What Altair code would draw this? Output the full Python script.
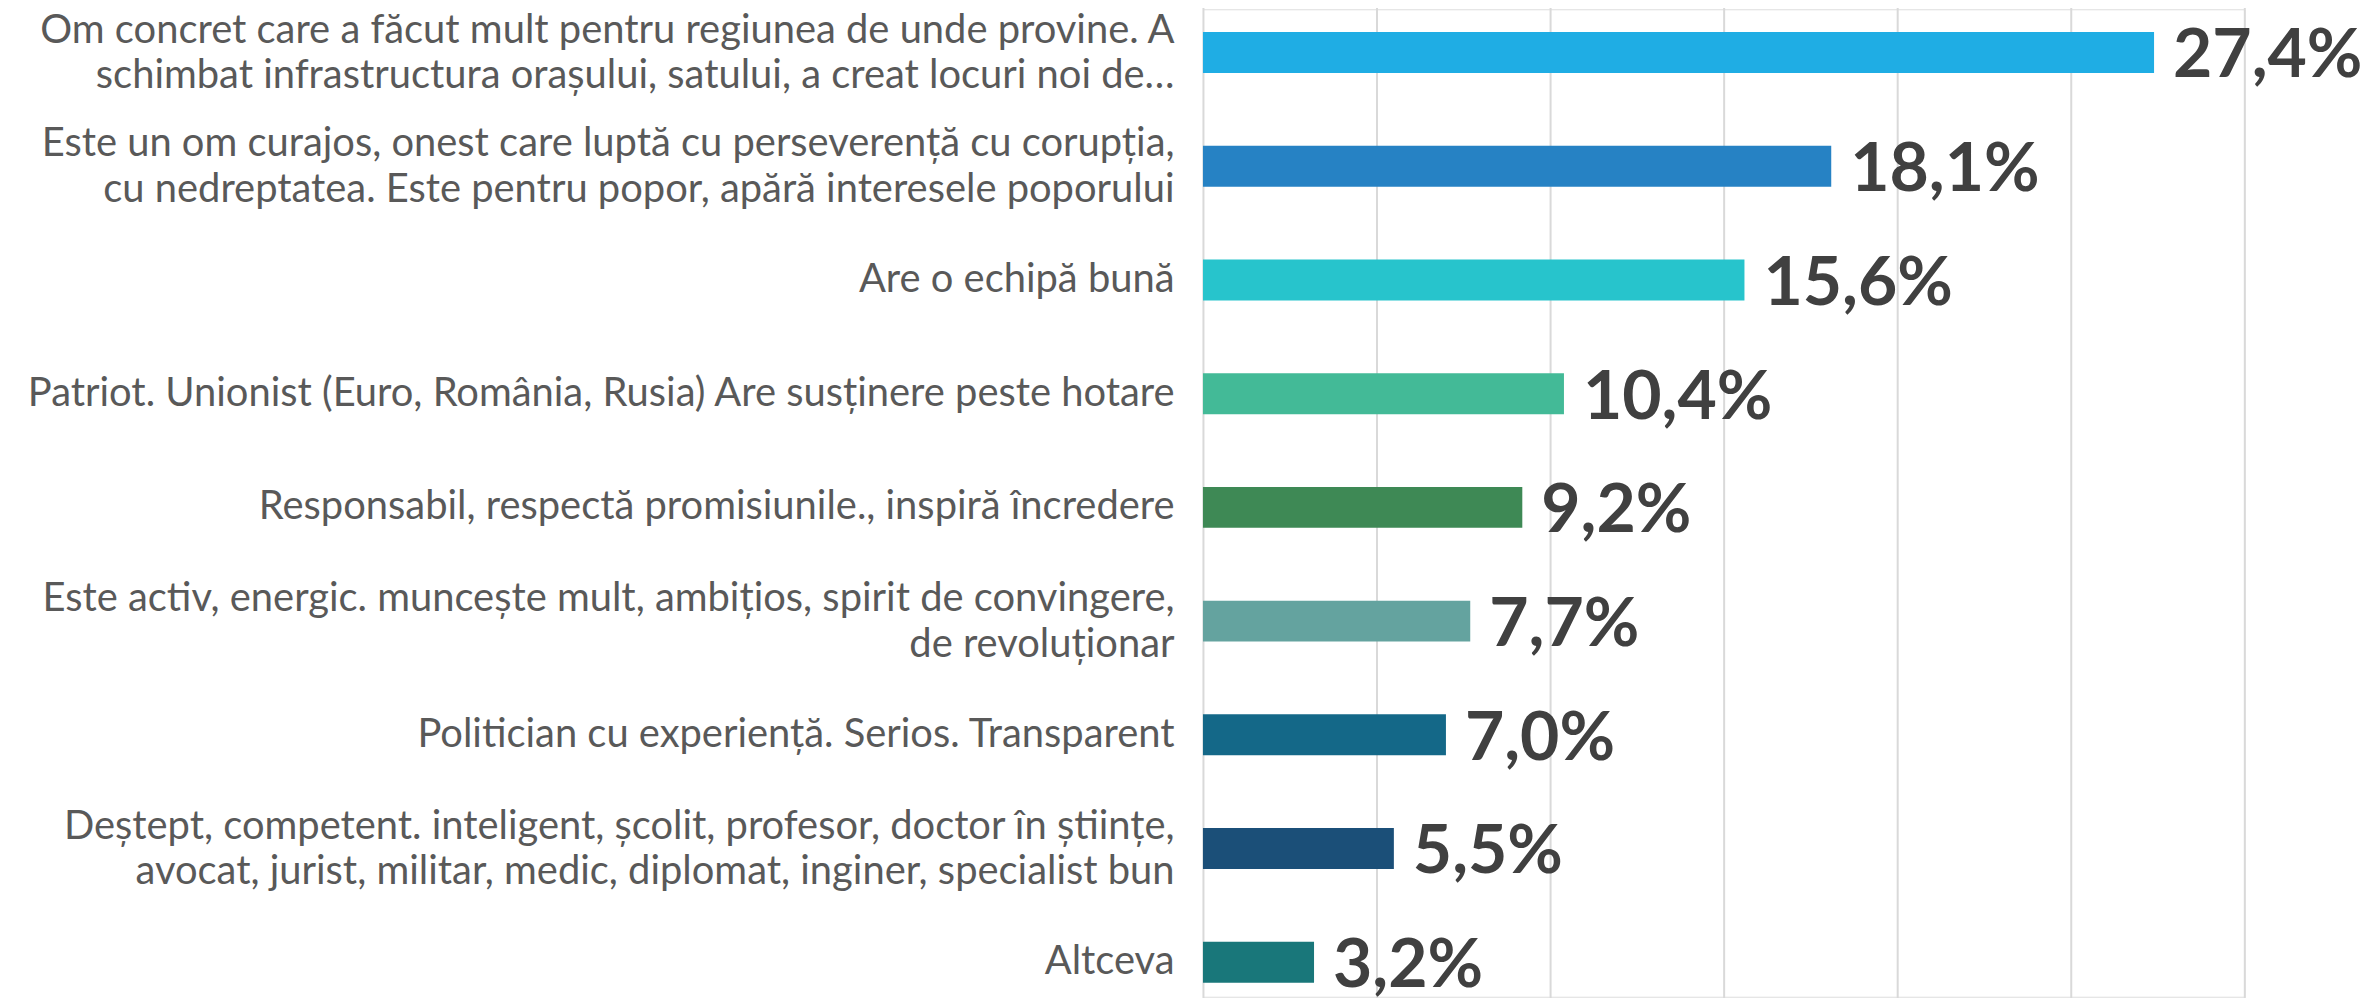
import altair as alt
import pandas as pd

categories = [
    "Om concret care a făcut mult pentru regiunea de unde provine. A\nschimbat infrastructura orașului, satului, a creat locuri noi de…",
    "Este un om curajos, onest care luptă cu perseverență cu corupția,\ncu nedreptatea. Este pentru popor, apără interesele poporului",
    "Are o echipă bună",
    "Patriot. Unionist (Euro, România, Rusia) Are susținere peste hotare",
    "Responsabil, respectă promisiunile., inspiră încredere",
    "Este activ, energic. muncește mult, ambițios, spirit de convingere,\nde revoluționar",
    "Politician cu experiență. Serios. Transparent",
    "Deștept, competent. inteligent, școlit, profesor, doctor în științe,\navocat, jurist, militar, medic, diplomat, inginer, specialist bun",
    "Altceva",
]
values = [27.4, 18.1, 15.6, 10.4, 9.2, 7.7, 7.0, 5.5, 3.2]
colors = ["#1FADE4", "#2682C4", "#27C4CC", "#43BA97", "#3E8955",
          "#64A39F", "#146888", "#1B4F78", "#19777A"]
grid_ticks = [0, 5, 10, 15, 20, 25, 30]

df = pd.DataFrame({
    "cat": categories,
    "value": values,
    "label": [f"{v:.1f}".replace(".", ",") + "%" for v in values],
})

y_enc = alt.Y(
    "cat:N",
    sort=categories,
    scale=alt.Scale(range=[-13.6, 1012.4], paddingInner=0.64, paddingOuter=0.32),
    axis=alt.Axis(
        title=None, ticks=False, domain=False, labelFont="Lato",
        labelFontSize=40, labelColor="#595959", labelPadding=29,
        labelLimit=0, labelLineHeight=46,
        labelExpr="split(datum.label, '\\n')",
        labelOffset={"condition": {"test": "indexof(datum.value, '\\n') >= 0", "value": -22}, "value": 0},
    ),
)
x_enc = alt.X(
    "value:Q",
    scale=alt.Scale(domain=[0, 30], nice=False),
    axis=alt.Axis(
        title=None, labels=False, ticks=False, domain=False, values=grid_ticks,
        grid=True, gridColor="#D9D9D9", gridWidth=2,
    ),
)

bars = alt.Chart(df).mark_bar().encode(
    x=x_enc,
    y=y_enc,
    color=alt.Color("cat:N", scale=alt.Scale(domain=categories, range=colors), legend=None),
)
texts = alt.Chart(df).mark_text(
    align="left", baseline="alphabetic", dx=19, dy=25,
    font="Lato", fontWeight="bold", fontSize=68, color="#404040",
).encode(
    x=alt.X("value:Q"),
    y=alt.Y("cat:N", sort=categories),
    text="label:N",
)

chart = alt.layer(bars, texts).properties(
    width=1044, height=990,
    autosize=alt.AutoSizeParams(type="none"),
    padding={"left": 1198, "top": 0, "right": 120, "bottom": 0},
).configure_view(stroke=None).configure(background="white")

chart.save("out.html", embed_options={"renderer": "svg", "actions": False})
